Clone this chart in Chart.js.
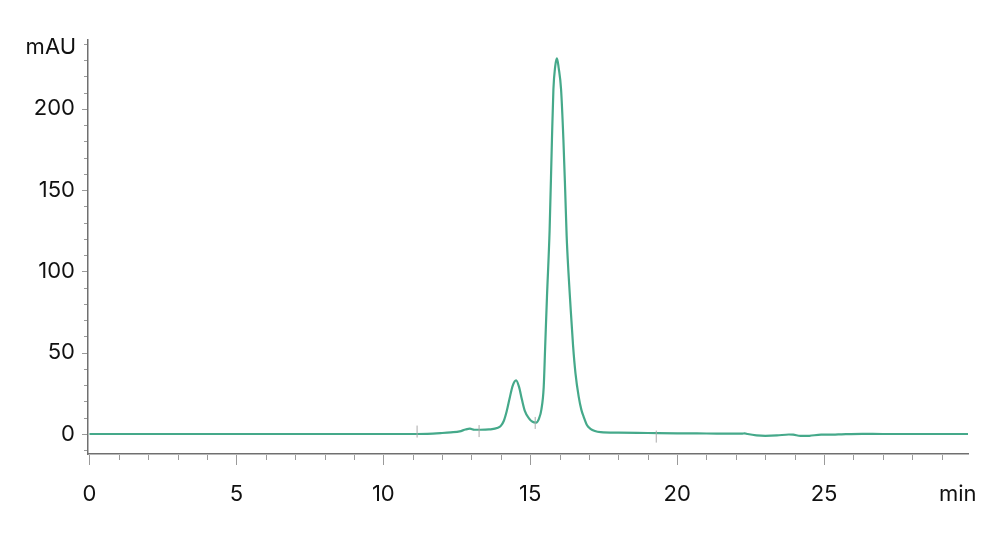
<!DOCTYPE html>
<html>
<head>
<meta charset="utf-8">
<script src="https://cdn.jsdelivr.net/npm/chart.js@4"></script>
<style>
html,body{margin:0;padding:0;background:#fff;}
#wrap{width:1000px;height:548px;position:relative;}
</style>
</head>
<body>
<div id="wrap"><canvas id="c" width="1000" height="548"></canvas></div>
<script>
// ---- data ----
const times = [0, 11.0, 11.5, 12.0, 12.3, 12.6, 12.8, 12.95, 13.1, 13.3, 13.6, 13.9, 14.0, 14.1, 14.2, 14.3, 14.4, 14.52, 14.62, 14.72, 14.82, 14.95, 15.08, 15.2, 15.3, 15.38, 15.46, 15.51, 15.57, 15.66, 15.74, 15.79, 15.85, 15.91, 15.97, 16.05, 16.13, 16.19, 16.24, 16.3, 16.36, 16.46, 16.54, 16.65, 16.74, 16.82, 16.93, 17.05, 17.2, 17.4, 18.0, 19.0, 20.0, 21.0, 22.2, 22.3, 22.4, 22.7, 23.0, 23.4, 23.8, 23.95, 24.2, 24.5, 24.9, 25.3, 25.6, 26.3, 27.0, 29.9];
const absorbance = [0, 0, 0.1, 0.6, 1.0, 1.6, 2.8, 3.3, 2.6, 2.6, 2.8, 3.8, 5, 8, 14, 22, 29.5, 33, 29, 21, 14, 9.8, 7.5, 7, 9.5, 15, 29, 54, 84, 125, 181, 212, 226, 231, 225, 212, 181, 150, 122, 100, 82, 54, 37.5, 23, 15, 10.6, 5.5, 3.2, 1.8, 1.1, 0.8, 0.6, 0.4, 0.3, 0.2, 0.4, 0, -0.8, -1.1, -0.9, -0.3, -0.4, -1.2, -1.1, -0.4, -0.4, -0.2, 0.1, 0, 0];
const markerTimes = [11.15, 13.26, 15.17, 19.29];
const markerValues = [1.5, 1.8, 6.8, -1.6];
const xTickLabels = [0, 5, 10, 15, 20, 25];
const yTickLabels = [0, 50, 100, 150, 200];
const xMinorTicks = Array.from({length: 30}, (_, i) => i);
const yMinorTicks = Array.from({length: 26}, (_, i) => -10 + i * 10);
const xUnit = 'min';
const yUnit = 'mAU';

const FONT = 'Inter, "Open Sans", sans-serif';
const FSIZE = 22;
const lineColor = '#45a98a';

const tickPlugin = {
  id: 'ticksAndUnits',
  afterDraw(chart) {
    const ctx = chart.ctx;
    const xs = chart.scales.x, ys = chart.scales.y;
    const area = chart.chartArea;
    ctx.save();
    ctx.strokeStyle = '#9a9a9a';
    ctx.lineWidth = 1;
    xMinorTicks.forEach(v => {
      const px = Math.round(xs.getPixelForValue(v)) + 0.5;
      const len = (v % 5 === 0) ? 10 : 5;
      ctx.beginPath();
      ctx.moveTo(px, area.bottom + 1);
      ctx.lineTo(px, area.bottom + 1 + len);
      ctx.stroke();
    });
    yMinorTicks.forEach(v => {
      const py = Math.round(ys.getPixelForValue(v)) + 0.5;
      const len = (v % 50 === 0) ? 5 : 3;
      ctx.beginPath();
      ctx.moveTo(area.left - 1, py);
      ctx.lineTo(area.left - 1 - len, py);
      ctx.stroke();
    });
    ctx.fillStyle = '#111';
    ctx.font = FSIZE + 'px ' + FONT;
    ctx.textBaseline = 'middle';
    ctx.textAlign = 'right';
    ctx.fillText(yUnit, 76, 47);
    ctx.textAlign = 'left';
    ctx.fillText(xUnit, 939, 494);
    ctx.restore();
  }
};

new Chart(document.getElementById('c'), {
  type: 'line',
  data: {
    datasets: [
      {
        type: 'scatter',
        data: markerTimes.map((t, i) => ({x: t, y: markerValues[i]})),
        pointStyle: 'line',
        rotation: 90,
        radius: 6,
        borderColor: '#aaaaaa',
        borderWidth: 1,
        backgroundColor: '#aaaaaa',
        order: 0
      },
      {
        data: times.map((t, i) => ({x: t, y: absorbance[i]})),
        borderColor: lineColor,
        borderWidth: 2.2,
        pointRadius: 0,
        fill: false,
        cubicInterpolationMode: 'monotone',
        order: 1
      }
    ]
  },
  options: {
    responsive: false,
    animation: false,
    events: [],
    layout: {padding: {top: 40, right: 32, left: 0, bottom: 0}},
    plugins: {legend: {display: false}, tooltip: {enabled: false}},
    scales: {
      x: {
        type: 'linear',
        min: -0.05,
        max: 29.9,
        grid: {display: false, drawTicks: false},
        border: {display: true, color: '#707070', width: 1.5},
        ticks: {
          padding: 27,
          color: '#111',
          font: {size: FSIZE, family: FONT},
          maxRotation: 0,
          callback: v => String(v)
        },
        afterBuildTicks: s => { s.ticks = xTickLabels.map(v => ({value: v})); },
        afterFit: s => { s.height = 94; }
      },
      y: {
        type: 'linear',
        min: -12.3,
        max: 242.3,
        grid: {display: false, drawTicks: false},
        border: {display: true, color: '#707070', width: 1.5},
        ticks: {
          padding: 13,
          color: '#111',
          font: {size: FSIZE, family: FONT},
          callback: v => String(v)
        },
        afterBuildTicks: s => { s.ticks = yTickLabels.map(v => ({value: v})); },
        afterFit: s => { s.width = 88; }
      }
    }
  },
  plugins: [tickPlugin]
});
</script>
</body>
</html>
